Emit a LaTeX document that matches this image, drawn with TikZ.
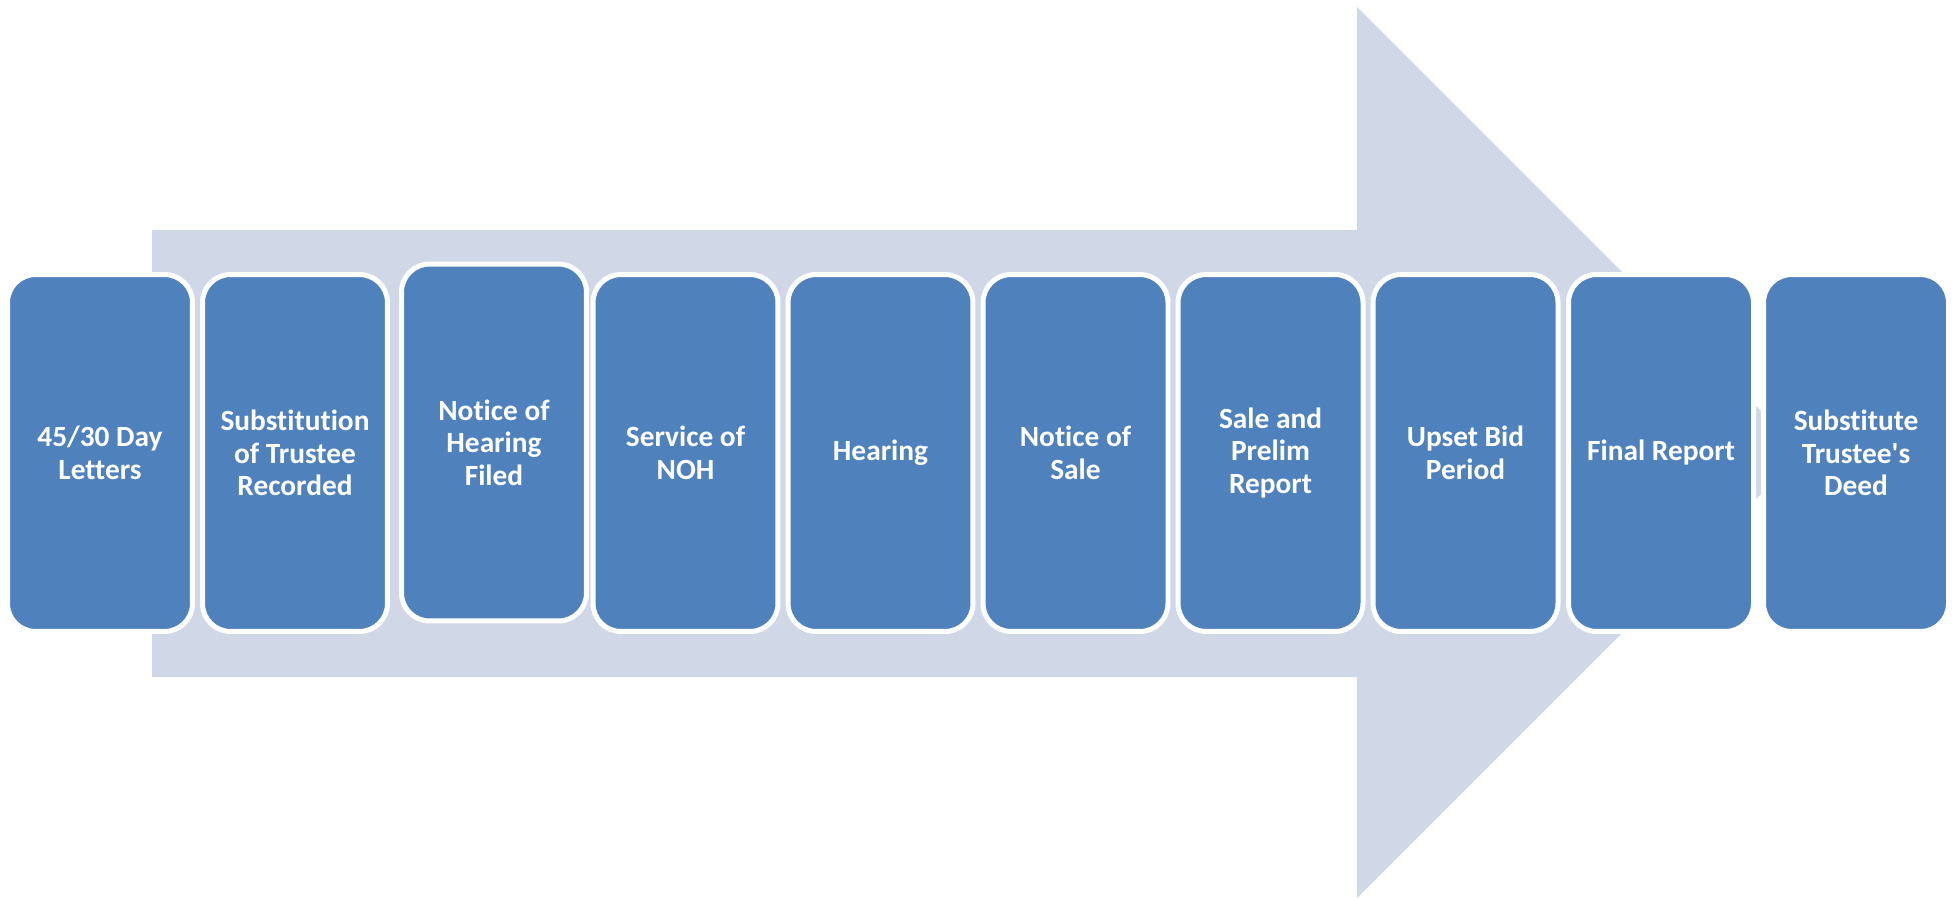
\documentclass[tikz,border=0pt]{standalone}
\usepackage{fontspec}
\setmainfont{Carlito}[Ligatures=NoCommon]
\definecolor{stepblue}{HTML}{4F81BD}
\definecolor{arrowgray}{HTML}{D0D8E8}
\tikzset{
  stepbox/.style={rectangle, rounded corners=0.56cm, fill=stepblue, draw=white,
    line width=0.1cm, minimum width=3.7cm, minimum height=7.14cm,
    align=center, text=white,
    font=\fontsize{16.7pt}{18.5pt}\selectfont\bfseries}
}
\begin{document}
\begin{tikzpicture}[x=0.02cm, y=-0.02cm]

\useasboundingbox (0,0) rectangle (1956,899);
% big arrow behind the steps
\fill[arrowgray] (152,230) -- (1357,230) -- (1357,7) -- (1802.5,452.5)
  -- (1357,898) -- (1357,677) -- (152,677) -- cycle;

\node[stepbox] (letters) at (100,453) {45/30 Day\\Letters};
\node[stepbox] (subst) at (295,453) {Substitution\\of Trustee\\Recorded};
\node[stepbox] (nohfiled) at (494,442.5) {Notice of\\Hearing\\Filed};
\node[stepbox] (service) at (685.5,453) {Service of\\NOH};
\node[stepbox] (hearing) at (880.5,453) {Hearing};
\node[stepbox] (nosale) at (1075.5,453) {Notice of\\Sale};
\node[stepbox] (sale) at (1270.5,453) {Sale and\\Prelim\\Report};
\node[stepbox] (upset) at (1465.5,453) {Upset Bid\\Period};
\node[stepbox] (final) at (1661,453) {Final Report};
\node[stepbox] (deed) at (1856,453) {Substitute\\Trustee\textquotesingle s\\Deed};

\end{tikzpicture}
\end{document}
